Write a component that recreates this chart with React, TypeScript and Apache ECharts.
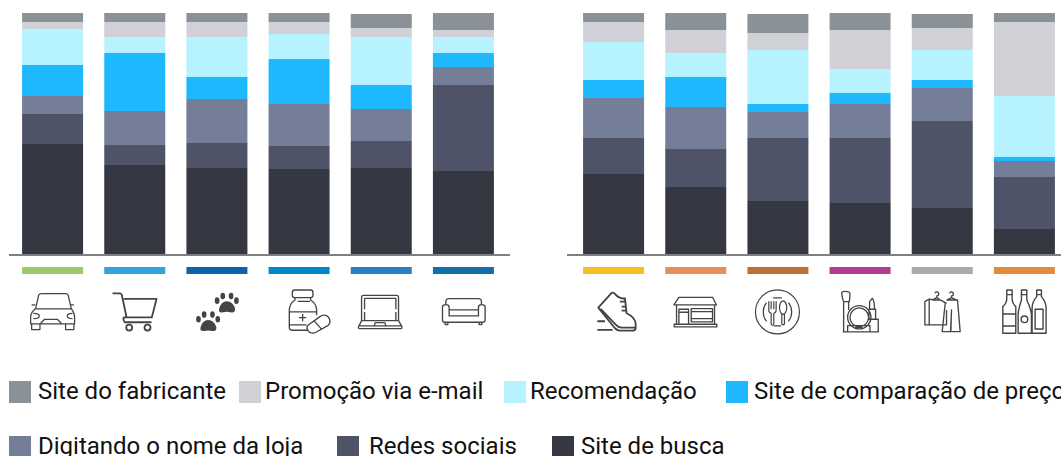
import React, { useEffect, useRef } from "react";
import * as echarts from "echarts";

const categoriesLeft = ["Automóveis", "Supermercado", "Animais", "Farmácia", "Eletrônicos", "Móveis"];
const categoriesRight = ["Calçados", "Lojas", "Restaurantes", "Cosméticos", "Roupas", "Bebidas"];

const seriesNames = ["Site de busca", "Redes sociais", "Digitando o nome da loja", "Site de comparação de preços", "Recomendação", "Promoção via e-mail", "Site do fabricante"];
const seriesColors = ["#353743", "#4E5368", "#747E99", "#1EB8FF", "#B7F2FF", "#CFD1D6", "#8A9197"];

const buscaLeft = [45.87, 37.19, 35.95, 35.54, 35.95, 34.71];
const buscaRight = [33.47, 28.1, 22.31, 21.49, 19.42, 10.74];
const sociaisLeft = [12.4, 8.26, 10.33, 9.5, 11.16, 35.54];
const sociaisRight = [14.88, 15.7, 26.03, 26.86, 35.95, 21.49];
const digitandoLeft = [7.44, 14.05, 18.18, 17.36, 13.22, 7.44];
const digitandoRight = [16.53, 17.36, 10.74, 14.05, 13.64, 6.61];
const comparacaoLeft = [12.81, 23.97, 9.09, 18.6, 9.92, 5.79];
const comparacaoRight = [7.44, 12.4, 3.31, 4.55, 3.31, 1.65];
const recomendacaoLeft = [14.88, 6.61, 16.53, 10.33, 19.83, 6.61];
const recomendacaoRight = [15.7, 9.92, 22.31, 9.92, 12.4, 25.21];
const emailLeft = [2.89, 6.2, 6.2, 4.96, 3.72, 2.89];
const emailRight = [8.26, 9.5, 7.02, 16.12, 9.09, 30.58];
const fabricanteLeft = [3.72, 3.72, 3.72, 3.72, 5.79, 7.02];
const fabricanteRight = [3.72, 7.02, 7.85, 7.02, 5.79, 3.72];

const stripColorsLeft = ["#9AC968", "#34A2DB", "#0F62A9", "#0087C9", "#2880C2", "#1170A9"];
const stripColorsRight = ["#F5BE21", "#E69153", "#BF7030", "#B53C93", "#A6ABB0", "#E58A3C"];

const leftData = [buscaLeft, sociaisLeft, digitandoLeft, comparacaoLeft, recomendacaoLeft, emailLeft, fabricanteLeft];
const rightData = [buscaRight, sociaisRight, digitandoRight, comparacaoRight, recomendacaoRight, emailRight, fabricanteRight];

const legendItems: [string, number, number, number][] = [
  ["Site do fabricante", 9, 378, 2],
  ["Promoção via e-mail", 239, 378, -1],
  ["Recomendação", 504, 378, -1],
  ["Site de comparação de preços", 726, 378, 1],
  ["Digitando o nome da loja", 9, 433, 2],
  ["Redes sociais", 337, 433, 5],
  ["Site de busca", 552, 433, 2],
];

const ell = (cx: number, cy: number, rx: number, ry: number) =>
  `M${cx - rx} ${cy}A${rx} ${ry} 0 1 0 ${cx + rx} ${cy}A${rx} ${ry} 0 1 0 ${cx - rx} ${cy}Z`;
const paw = (dx: number, dy: number) =>
  `M${600 + dx} ${203 + dy}Q${606 + dx} ${180 + dy} ${623 + dx} ${180 + dy}Q${642 + dx} ${180 + dy} ${648 + dx} ${203 + dy}Q${648 + dx} ${216 + dy} ${634 + dx} ${213 + dy}Q${623 + dx} ${210 + dy} ${612 + dx} ${213 + dy}Q${598 + dx} ${216 + dy} ${600 + dx} ${203 + dy}Z` +
  ell(594 + dx, 178 + dy, 7, 10) + ell(611 + dx, 164 + dy, 7, 10) + ell(636 + dx, 164 + dy, 7, 10) + ell(652 + dx, 178 + dy, 7, 10);

const icons: Record<string, { d: string; cx: number; w: number; fill?: boolean }> = {
  car: { cx: 0, w: 3.8, d: "M107 146L116 106Q118 101 125 101H196Q203 101 205 106L214 146Q224 158 224 172V192H92V172Q92 158 107 146ZM107 147H214M95 192V209H120V192M197 192V209H222V192M122 190L134 178H172L184 190M100 160Q118 160 118 168Q118 176 100 176M218 160Q202 160 202 168Q202 176 218 176M106 135H95M212 135H222" },
  cart: { cx: 0, w: 5.4, d: "M338 100H360Q365 100 366 106L380 172H372Q368 180 375 187H455M372 117H470L456 172H380" + ell(388, 203, 9, 9) + ell(443, 203, 9, 9) },
  paws: { cx: 0, w: 0, fill: true, d: paw(2, 0) + paw(58, -56) },
  pills: { cx: 260, w: 4, d: "M97 97Q97 90 104 90H152Q159 90 159 97V106Q159 113 152 113H104Q97 113 97 106ZM105 113V120Q88 132 88 150V203Q88 211 96 211H143M152 113V120Q170 132 170 150V166M88 156H170M88 195H140M117 173H139M128 162V184M113 124H150M145 195L180 170Q195 160 206 172Q216 188 202 198L168 217Q152 224 144 212Q138 203 145 195ZM162 182L186 209" },
  laptop: { cx: 260, w: 4, d: "M305 182V112Q305 106 311 106H410Q416 106 416 112V182M314 115H408V148M408 156V182H314V156M314 148V115M305 182L296 200Q294 206 300 206H422Q428 206 426 200L416 182ZM343 198L346 188H375L378 198M299 198H424" },
  sofa: { cx: 260, w: 4, d: "M558 135V125Q558 116 568 116H655Q665 116 665 125V135M548 142Q548 134 558 134Q568 134 568 142V168H656V142Q656 134 666 134Q676 134 676 142V180Q676 187 668 187H555Q548 187 548 180ZM570 150H655M556 187V194H564V187M658 187V194H666V187" },
  shoe: { cx: 570, w: 5.6, d: "M85 143L125 99Q130 96 135 102Q148 118 165 115L170 160Q195 172 197 190V205Q197 212 188 212H150Q142 212 135 205ZM92 147L138 195Q145 203 155 203H195M150 125H165M155 140H168M155 152H170M82 184H105M82 210H128" },
  shop: { cx: 570, w: 4, d: "M327 112H428L440 135H312ZM320 135V193M434 135V193M313 193H441V201H313ZM327 148H356V193H327ZM327 157H356M364 146H428V186H364ZM364 155H428M364 176H428" },
  plate: { cx: 570, w: 3.6, d: ell(623, 156, 66, 66) + "M590 128A45 45 0 0 0 590 184M656 128A45 45 0 0 1 656 184M610 114H636M612 198H634M597 124V150Q597 158 604 160V190Q604 196 608 196Q612 196 612 190V160Q619 158 619 150V124M604 124V148M612 124V148" + ell(640, 143, 11, 20) + "M636 162V192Q640 198 644 192V162" },
  makeup: { cx: 801, w: 4, d: "M122 100Q122 94 132 94Q148 94 147 103Q147 115 145 125H128Q124 115 122 100ZM128 125V215M143 125V150" + ell(175, 172, 35, 35) + ell(175, 172, 28, 28) + "M140 197H207V216H140ZM165 197V202H183V197M206 148V125L214 115Q220 120 221 148ZM204 148H224V178H204ZM204 178H232V216H207M125 216H140" },
  clothes: { cx: 801, w: 4, d: "M402 100A6 6 0 1 1 408 108V113L395 120H418L408 113M446 100A6 6 0 1 1 452 108V113L439 120H466L452 113M385 117L372 125V195H385V150M385 118V195H437V150M385 117L395 120M418 120L437 130M437 120H470L478 215H450L452 150L449 215H424L433 130" },
  bottles: { cx: 801, w: 4.2, d: "M618 90H634V115Q634 130 645 140V220H606V140Q618 130 618 115ZM618 104H634M606 162H645M606 198H645M662 90H678V120Q692 150 692 165V220H652V165Q652 150 662 120ZM662 104H678" + ell(671, 178, 10, 10) + "M708 90H722V110Q736 125 736 145V220H694V145Q694 125 708 110ZM708 104H722M703 148H727V207H703Z" },
};

Object.keys(icons).forEach((k) => {
  echarts.graphic.registerShape("icon_" + k, (echarts.graphic as any).extendPath(icons[k].d, {}));
});

export default function App() {
  const ref = useRef<HTMLDivElement>(null);
  useEffect(() => {
    document.body.style.margin = "0";
    document.body.style.overflow = "hidden";
    const chart = echarts.init(ref.current!, undefined, { renderer: "svg" });
    const stack = (data: number[][], idx: number) =>
      seriesNames.map((name, i) => ({
        name,
        type: "bar",
        stack: "s" + idx,
        xAxisIndex: idx,
        yAxisIndex: idx,
        barWidth: 61,
        data: data[i],
        itemStyle: { color: seriesColors[i] },
        silent: true,
      }));
    const strip = (colors: string[], idx: number) => ({
      type: "bar",
      xAxisIndex: idx,
      yAxisIndex: idx,
      barWidth: 61,
      silent: true,
      data: colors.map((c) => ({ value: 1, itemStyle: { color: c } })),
    });
    const grids = [
      { left: 11.5, top: 13, width: 493, height: 242 },
      { left: 572.5, top: 13, width: 493, height: 242 },
      { left: 11.5, top: 267, width: 493, height: 7 },
      { left: 572.5, top: 267, width: 493, height: 7 },
    ];
    const cats = [categoriesLeft, categoriesRight, categoriesLeft, categoriesRight];
    chart.setOption({
      animation: false,
      grid: grids,
      xAxis: cats.map((data, gridIndex) => ({ type: "category", gridIndex, data, show: false })),
      yAxis: cats.map((_, gridIndex) => ({ type: "value", gridIndex, min: 0, max: gridIndex < 2 ? 100 : 1, show: false })),
      legend: legendItems.map(([name, left, top, pad]) => ({
        data: [name],
        left,
        top,
        padding: 0,
        itemWidth: 22,
        itemHeight: 26,
        // the two tiny squares stretch the icon's box so the swatch sits 3px low, with the text above its centre
        icon: "path://M0 0H0.01V0.01H0ZM0 3H22V25H0ZM0 25.99H0.01V26H0Z",
        selectedMode: false,
        textStyle: { fontFamily: "Roboto", fontSize: 24, color: "#111", padding: [0, 0, 0, pad] },
      })),
      series: [...stack(leftData, 0), ...stack(rightData, 1), strip(stripColorsLeft, 2), strip(stripColorsRight, 3)],
      graphic: [
        { type: "line", z: 100, shape: { x1: 9, y1: 255, x2: 510, y2: 255 }, style: { stroke: "#7f7f7f", lineWidth: 2 } },
        { type: "line", z: 100, shape: { x1: 567, y1: 255, x2: 1061, y2: 255 }, style: { stroke: "#7f7f7f", lineWidth: 2 } },
        ...Object.keys(icons).map((k) => ({
          type: "icon_" + k,
          x: icons[k].cx,
          y: 260,
          scaleX: 1 / 3,
          scaleY: 1 / 3,
          style: icons[k].fill
            ? { fill: "#444" }
            : { fill: "none", stroke: "#444", lineWidth: icons[k].w, lineJoin: "round" },
        })),
      ],
    });
    return () => chart.dispose();
  }, []);
  return (
    <div style={{ width: 1061, height: 456, overflow: "hidden" }}>
      <div ref={ref} style={{ width: 1100, height: 456 }} />
    </div>
  );
}
